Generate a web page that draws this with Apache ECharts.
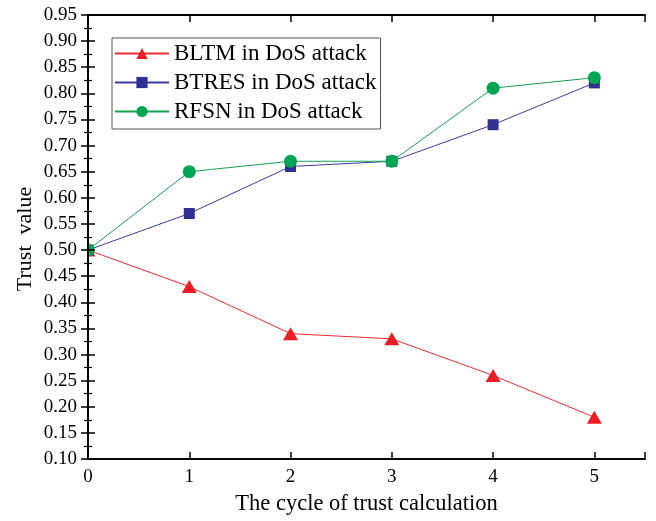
<!DOCTYPE html>
<html>
<head>
<meta charset="utf-8">
<script src="https://cdn.jsdelivr.net/npm/echarts@6/dist/echarts.min.js"></script>
<style>
html,body{margin:0;padding:0;background:#fff;}
#chart{width:656px;height:521px;}
</style>
</head>
<body>
<div id="chart"></div>
<script>
// Trust value per cycle of trust calculation
const cycles = [0, 1, 2, 3, 4, 5];
const bltm = [0.50, 0.43, 0.34, 0.33, 0.26, 0.18];
const btres = [0.50, 0.57, 0.66, 0.67, 0.74, 0.82];
const rfsn = [0.50, 0.65, 0.67, 0.67, 0.81, 0.83];
const seriesNames = ['BLTM in DoS attack', 'BTRES in DoS attack', 'RFSN in DoS attack'];
const yTitle = 'Trust  value';

const FONT = '"Liberation Serif", "Times New Roman", serif';
const pairs = arr => cycles.map((c, i) => [c, arr[i]]);

const GRID = { left: 88, right: 11, top: 15, bottom: 58 };
const axisLineStyle = { color: '#000', width: 2 };
const majorTick = { inside: true, length: 7, lineStyle: { width: 1.5, color: '#000' } };
const minorTick = { show: true, splitNumber: 2, length: 4, lineStyle: { color: '#000', width: 1.2 } };

const chart = echarts.init(document.getElementById('chart'));

chart.setOption({
  backgroundColor: '#fff',
  animation: false,
  grid: GRID,
  graphic: [{
    // white mask left of the plot so markers sitting on x = 0 are cut by the axis
    type: 'rect', z: 5, silent: true,
    shape: { x: 0, y: 0, width: GRID.left - 1, height: 521 },
    style: { fill: '#fff' }
  }, {
    // vertical axis title
    type: 'text', z: 11, silent: true,
    x: 25, y: 239, rotation: Math.PI / 2,
    style: {
      text: yTitle, fontFamily: FONT, fontSize: 22, fill: '#000',
      align: 'center', verticalAlign: 'middle'
    }
  }],
  legend: {
    left: 112, top: 38,
    orient: 'vertical',
    itemWidth: 54, itemHeight: 14, itemGap: 6,
    padding: [4, 4, 6, 2],
    borderColor: '#555', borderWidth: 1,
    textStyle: { fontFamily: FONT, fontSize: 23, color: '#000' },
    data: seriesNames
  },
  xAxis: [{
    type: 'value', min: 0, max: 5.5, interval: 1, z: 10,
    axisLine: { lineStyle: axisLineStyle },
    axisTick: majorTick,
    axisLabel: {
      fontFamily: FONT, fontSize: 19, color: '#000', margin: 9,
      formatter: v => (Number.isInteger(v) ? String(v) : '')
    },
    splitLine: { show: false },
    name: 'The cycle of trust calculation',
    nameLocation: 'middle', nameGap: 34,
    nameTextStyle: { fontFamily: FONT, fontSize: 22.5, color: '#000' }
  }, {
    type: 'value', position: 'top', min: 0, max: 5.5, interval: 1, z: 10,
    axisLine: { lineStyle: axisLineStyle },
    axisTick: majorTick,
    axisLabel: { show: false },
    splitLine: { show: false }
  }],
  yAxis: [{
    type: 'value', min: 0.10, max: 0.95, interval: 0.05, z: 10,
    axisLine: { show: true, lineStyle: axisLineStyle },
    axisTick: majorTick,
    minorTick: minorTick,
    axisLabel: {
      fontFamily: FONT, fontSize: 19, color: '#000', margin: 11,
      formatter: v => v.toFixed(2)
    },
    splitLine: { show: false }
  }, {
    type: 'value', position: 'right', min: 0.10, max: 0.95, interval: 0.05, z: 10,
    axisLine: { show: true, lineStyle: axisLineStyle },
    axisTick: majorTick,
    minorTick: minorTick,
    axisLabel: { show: false },
    splitLine: { show: false }
  }],
  series: [{
    name: seriesNames[0], type: 'line', data: pairs(bltm),
    symbol: 'triangle', symbolSize: [15, 13],
    lineStyle: { color: '#ee2a2f', width: 1 },
    itemStyle: { color: '#ee1c25' }
  }, {
    name: seriesNames[1], type: 'line', data: pairs(btres),
    symbol: 'rect', symbolSize: 11,
    lineStyle: { color: '#3c3ca0', width: 1 },
    itemStyle: { color: '#2e3192' }
  }, {
    name: seriesNames[2], type: 'line', data: pairs(rfsn),
    symbol: 'circle', symbolSize: 13,
    lineStyle: { color: '#13a04f', width: 1 },
    itemStyle: { color: '#00a651' }
  }]
});
</script>
</body>
</html>
